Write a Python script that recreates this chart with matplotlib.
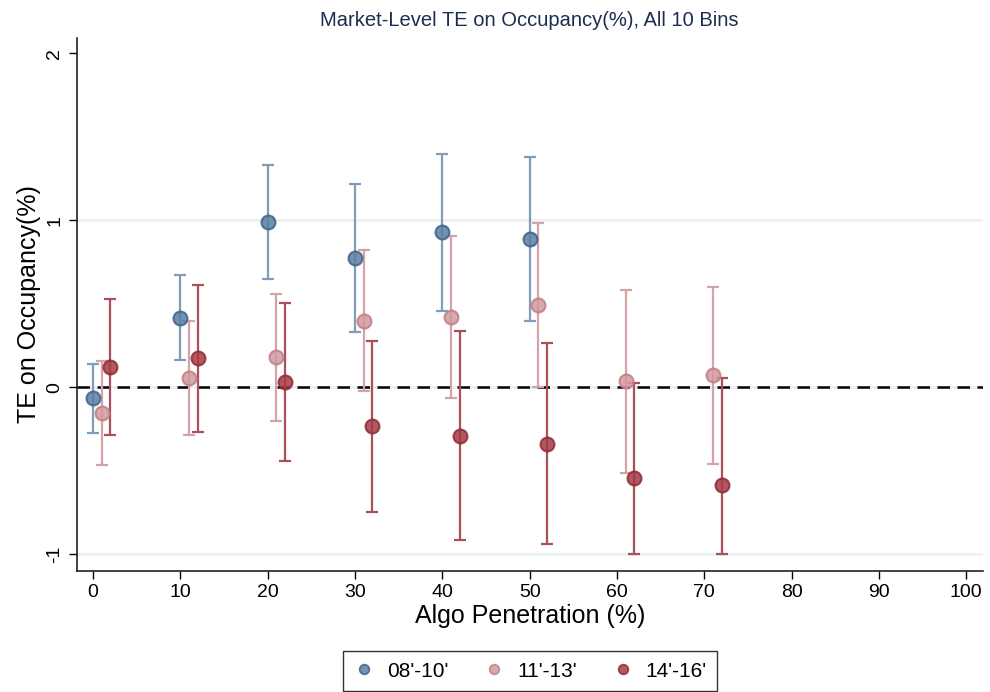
import numpy as np
import matplotlib
matplotlib.use("Agg")
import matplotlib.pyplot as plt

plt.rcParams['font.family'] = ['Liberation Sans', 'DejaVu Sans']

# ---------------- data ----------------
labels = ["08'-10'", "11'-13'", "14'-16'"]

x1 = [0, 10, 20, 30, 40, 50]
y1 = [-0.066, 0.413, 0.988, 0.772, 0.928, 0.886]
lo1 = [-0.275, 0.162, 0.647, 0.329, 0.455, 0.395]
hi1 = [0.138, 0.671, 1.329, 1.216, 1.395, 1.377]

x2 = [1, 11, 21, 31, 41, 51, 61, 71]
y2 = [-0.156, 0.054, 0.180, 0.395, 0.419, 0.491, 0.036, 0.072]
lo2 = [-0.467, -0.287, -0.204, -0.022, -0.066, 0.0, -0.515, -0.461]
hi2 = [0.156, 0.395, 0.557, 0.820, 0.904, 0.982, 0.581, 0.599]

x3 = [2, 12, 22, 32, 42, 52, 62, 72]
y3 = [0.120, 0.174, 0.030, -0.234, -0.293, -0.339, -0.545, -0.587]
lo3 = [-0.287, -0.269, -0.443, -0.749, -0.916, -0.940, -1.0, -1.0]
hi3 = [0.527, 0.611, 0.503, 0.275, 0.335, 0.263, 0.026, 0.054]

xticks = list(range(0, 101, 10))
yticks = [-1, 0, 1, 2]

# ---------------- styles ----------------
series = [
    (x1, y1, lo1, hi1, "#5a7ea3", "#3f6288", "#7f9cb8"),
    (x2, y2, lo2, hi2, "#d09a9e", "#bf7d83", "#d5a3a7"),
    (x3, y3, lo3, hi3, "#a63a45", "#8e2a35", "#a9505a"),
]

fig = plt.figure(figsize=(9.9, 6.92), dpi=100)
ax = fig.add_axes([0.0778, 0.1749, 0.915, 0.770])

for yy in [-1, 0, 1]:
    ax.axhline(yy, color="#eaf1f4", lw=2, zorder=0)
ax.axhline(0, color="black", lw=1.8, ls=(0, (5, 3)), zorder=1)

handles = []
for (x, y, lo, hi, fc, ec, lc), lab in zip(series, labels):
    x = np.asarray(x); y = np.asarray(y)
    err = [y - np.asarray(lo), np.asarray(hi) - y]
    ax.errorbar(x, y, yerr=err, fmt="none", ecolor=lc, elinewidth=1.6,
                capsize=4.5, capthick=1.6, zorder=2)
    h, = ax.plot(x, y, "o", ms=10, mfc=fc, mec=ec, mew=1.5, alpha=0.85,
                 ls="none", zorder=3, label=lab)
    handles.append(h)

ax.set_xlim(-1.83, 101.9)
ax.set_ylim(-1.10, 2.09)
ax.set_xticks(xticks)
ax.set_yticks(yticks)
ax.set_yticklabels(["-1", "0", "1", "2"], rotation=90, va="center")
ax.tick_params(axis="both", labelsize=14, length=6, width=1, color="black")
ax.tick_params(axis="y", pad=4)

for s in ["top", "right"]:
    ax.spines[s].set_visible(False)
for s in ["left", "bottom"]:
    ax.spines[s].set_linewidth(1.2)
    ax.spines[s].set_color("#222222")

ax.set_xlabel("Algo Penetration (%)", fontsize=18, labelpad=2)
ax.set_ylabel("TE on Occupancy(%)", fontsize=18, labelpad=4)
fig.text(0.535, 0.971, "Market-Level TE on Occupancy(%), All 10 Bins",
         ha="center", va="center", fontsize=14.5, color="#1c2d52")

small = [plt.Line2D([], [], marker="o", ls="none", ms=7, mfc=h.get_mfc(),
                    mec=h.get_mec(), mew=1.2, alpha=0.85) for h in handles]
leg = fig.legend(small, labels, loc="upper center", bbox_to_anchor=(0.5355, 0.074),
                 ncol=3, fontsize=15, frameon=True, fancybox=False,
                 edgecolor="black", handletextpad=0.6, columnspacing=1.7,
                 borderpad=0.5, handlelength=1.0)
leg.get_frame().set_linewidth(1.0)

fig.savefig("out.png", dpi=100)
